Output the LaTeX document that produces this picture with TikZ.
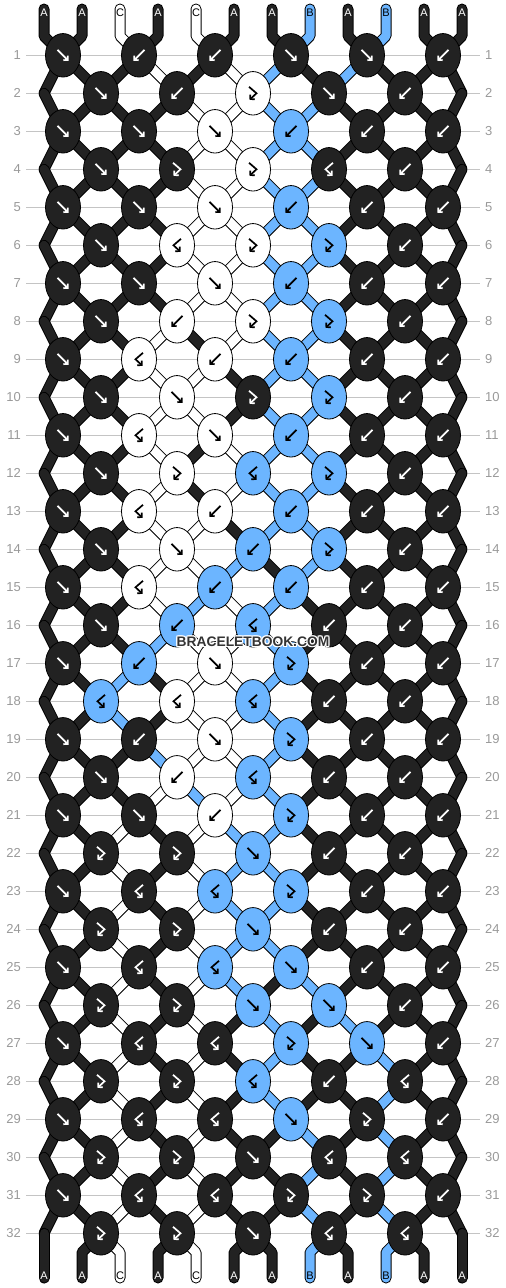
\documentclass[tikz,border=0pt]{standalone}
\usepackage{fontspec}
\setmainfont{Liberation Sans}
\usetikzlibrary{shapes.geometric,arrows.meta}

\definecolor{cA}{HTML}{222222}
\definecolor{cB}{HTML}{6CB5FF}
\definecolor{cC}{HTML}{FFFFFF}
\colorlet{inkA}{white}
\colorlet{inkB}{black}
\colorlet{inkC}{black}
\definecolor{rowgray}{HTML}{C4C4C4}
\definecolor{numgray}{HTML}{999999}

\pgfdeclarelayer{strands}
\pgfsetlayers{strands,main}

\tikzset{
  knot/.style={ellipse, draw=black, line width=0.8pt, minimum width=35pt, minimum height=43.5pt, inner sep=0pt},
  strand/.style={draw=black, line width=1pt, double distance=9pt, line join=round, line cap=round},
  rowline/.style={draw=rowgray, line width=1pt},
  rownum/.style={text=numgray, font=\fontsize{13}{13}\selectfont, inner sep=0pt},
  letter/.style={font=\fontsize{11}{11}\selectfont, inner sep=0pt},
  wmtext/.style={font=\bfseries\fontsize{13.8}{14}\selectfont, inner sep=0pt},
  f/.pic={\draw[->, line width=1.7pt] (-5.5,-5.5) -- (5.5,5.5);},
  b/.pic={\draw[->, line width=1.7pt] (5.5,-5.5) -- (-5.5,5.5);},
  fb/.pic={\draw[->, line width=1.7pt, line join=miter] (-4,-6.5) -- (3.5,0) -- (-3.5,6.5);},
  bf/.pic={\draw[->, line width=1.7pt, line join=miter] (4,-6.5) -- (-3.5,0) -- (3.5,6.5);}
}

\begin{document}
\begin{tikzpicture}[x=1pt, y=-1pt, >={Straight Barb[length=3pt,width=6.5pt]}]
    \useasboundingbox (0,0) rectangle (506,1288);

    % string ends and their letters
    \foreach \c [count=\i from 0] in {A,A,C,A,C,A,A,B,A,B,A,A} {
        \pgfmathsetmacro\sx{44+38*\i}
        \coordinate (t-\i) at (\sx,9);
        \coordinate (tb-\i) at (\sx,36);
        \coordinate (bb-\i) at (\sx,1252.3);
        \coordinate (b-\i) at (\sx,1278);
        \node[letter, text=ink\c] (lt-\i) at (\sx,12.5) {\c};
        \node[letter, text=ink\c] (lb-\i) at (\sx,1275.5) {\c};
    }

    % row numbers
    \foreach \r in {1,...,32} {
        \pgfmathsetmacro\ky{17.3+38*\r}
        \node[rownum, anchor=east] (ll-\r) at (21,\ky) {\r};
        \node[rownum, anchor=west] (lr-\r) at (485,\ky) {\r};
    }

    % knots: type/colour, row by row
    \foreach \row [count=\r] in {
        {f/A,b/A,b/A,f/A,f/A,b/A},
        {f/A,b/A,fb/C,f/A,b/A},
        {f/A,f/A,f/C,b/B,b/A,b/A},
        {f/A,fb/A,fb/C,bf/A,b/A},
        {f/A,f/A,f/C,b/B,b/A,b/A},
        {f/A,bf/C,fb/C,fb/B,b/A},
        {f/A,f/A,f/C,b/B,b/A,b/A},
        {f/A,b/C,fb/C,fb/B,b/A},
        {f/A,bf/C,b/C,b/B,b/A,b/A},
        {f/A,f/C,fb/A,fb/B,b/A},
        {f/A,bf/C,f/C,b/B,b/A,b/A},
        {f/A,fb/C,bf/B,fb/B,b/A},
        {f/A,bf/C,b/C,b/B,b/A,b/A},
        {f/A,f/C,b/B,fb/B,b/A},
        {f/A,bf/C,b/B,b/B,b/A,b/A},
        {f/A,b/B,bf/B,b/A,b/A},
        {f/A,b/B,f/C,fb/B,b/A,b/A},
        {bf/B,bf/C,bf/B,b/A,b/A},
        {f/A,b/A,f/C,fb/B,b/A,b/A},
        {f/A,b/C,bf/B,b/A,b/A},
        {f/A,f/A,b/C,fb/B,b/A,b/A},
        {fb/A,fb/A,f/B,b/A,b/A},
        {f/A,bf/A,bf/B,fb/B,b/A,b/A},
        {fb/A,fb/A,f/B,b/A,b/A},
        {f/A,bf/A,bf/B,f/B,b/A,b/A},
        {fb/A,fb/A,f/B,f/B,b/A},
        {f/A,bf/A,bf/A,fb/B,f/B,b/A},
        {fb/A,fb/A,bf/B,b/A,bf/A},
        {f/A,bf/A,bf/A,f/B,fb/A,b/A},
        {fb/A,fb/A,f/A,bf/A,bf/A},
        {f/A,bf/A,bf/A,fb/A,fb/A,b/A},
        {fb/A,fb/A,f/A,bf/A,bf/A}}{
        \pgfmathtruncatemacro\off{isodd(\r) ? 0 : 1}
        \pgfmathsetmacro\ky{17.3+38*\r}
        \foreach \t/\c [count=\j from 0] in \row {
            \pgfmathsetmacro\kx{63+38*\off+76*\j}
            \pgfmathtruncatemacro\pa{2*\j+\off}
            \pgfmathtruncatemacro\pb{\pa+1}
            \node[knot, fill=c\c, alias=p-\r-\pa, alias=p-\r-\pb] (k-\r-\j) at (\kx,\ky) {};
            \pic[color=ink\c] at (k-\r-\j) {\t};
        }
        \ifodd\r\else
            \coordinate (p-\r-0) at (44,\ky);
            \coordinate (p-\r-11) at (462,\ky);
        \fi
    }

    \begin{pgfonlayer}{strands}
        \foreach \r in {1,...,32}
            \draw[rowline] ([xshift=5pt]ll-\r.east) -- ([xshift=-5pt]lr-\r.west);

        % string colours after each row
        \foreach \st [count=\r from 0] in {
            {A,A,C,A,C,A,A,B,A,B,A,A},
            {A,A,A,C,A,C,B,A,B,A,A,A},
            {A,A,A,A,C,C,B,B,A,A,A,A},
            {A,A,A,A,C,C,B,B,A,A,A,A},
            {A,A,A,A,C,C,B,B,A,A,A,A},
            {A,A,A,A,C,C,B,B,A,A,A,A},
            {A,A,A,A,C,C,B,B,A,A,A,A},
            {A,A,A,A,C,C,B,B,A,A,A,A},
            {A,A,A,C,A,C,B,B,A,A,A,A},
            {A,A,A,C,C,A,B,B,A,A,A,A},
            {A,A,A,C,C,A,B,B,A,A,A,A},
            {A,A,A,C,A,C,B,B,A,A,A,A},
            {A,A,A,C,A,C,B,B,A,A,A,A},
            {A,A,A,C,C,A,B,B,A,A,A,A},
            {A,A,A,C,C,B,A,B,A,A,A,A},
            {A,A,A,C,B,C,B,A,A,A,A,A},
            {A,A,A,B,C,C,B,A,A,A,A,A},
            {A,A,B,A,C,C,B,A,A,A,A,A},
            {A,A,B,A,C,C,B,A,A,A,A,A},
            {A,A,A,B,C,C,B,A,A,A,A,A},
            {A,A,A,C,B,C,B,A,A,A,A,A},
            {A,A,C,A,C,B,B,A,A,A,A,A},
            {A,A,C,A,C,B,B,A,A,A,A,A},
            {A,A,C,A,C,B,B,A,A,A,A,A},
            {A,A,C,A,C,B,B,A,A,A,A,A},
            {A,A,C,A,C,B,A,B,A,A,A,A},
            {A,A,C,A,C,A,B,A,B,A,A,A},
            {A,A,C,A,C,A,B,A,A,B,A,A},
            {A,A,C,A,C,A,B,A,A,B,A,A},
            {A,A,C,A,C,A,A,B,A,B,A,A},
            {A,A,C,A,C,A,A,B,A,B,A,A},
            {A,A,C,A,C,A,A,B,A,B,A,A},
            {A,A,C,A,C,A,A,B,A,B,A,A}}{
            \pgfmathtruncatemacro\rn{\r+1}
            \foreach \c [count=\i from 0] in \st {
                \ifnum\r=0
                    \draw[strand, double=c\c] (t-\i) -- (tb-\i) -- (p-1-\i.center);
                \else\ifnum\r=32
                    \draw[strand, double=c\c] (p-32-\i.center) -- (bb-\i) -- (b-\i);
                \else
                    \draw[strand, double=c\c] (p-\r-\i.center) -- (p-\rn-\i.center);
                \fi\fi
            }
        }
    \end{pgfonlayer}

    % watermark
    \foreach \dx/\dy [count=\h] in {-1/-1,0/-1,1/-1,-1/0,1/0,-1/1,0/1,1/1}
        \node[wmtext, text=white] (wm-\h) at (253+\dx,642+\dy) {BRACELETBOOK.COM};
    \node[wmtext, text=black!80] (wm) at (253,642) {BRACELETBOOK.COM};
\end{tikzpicture}
\end{document}
